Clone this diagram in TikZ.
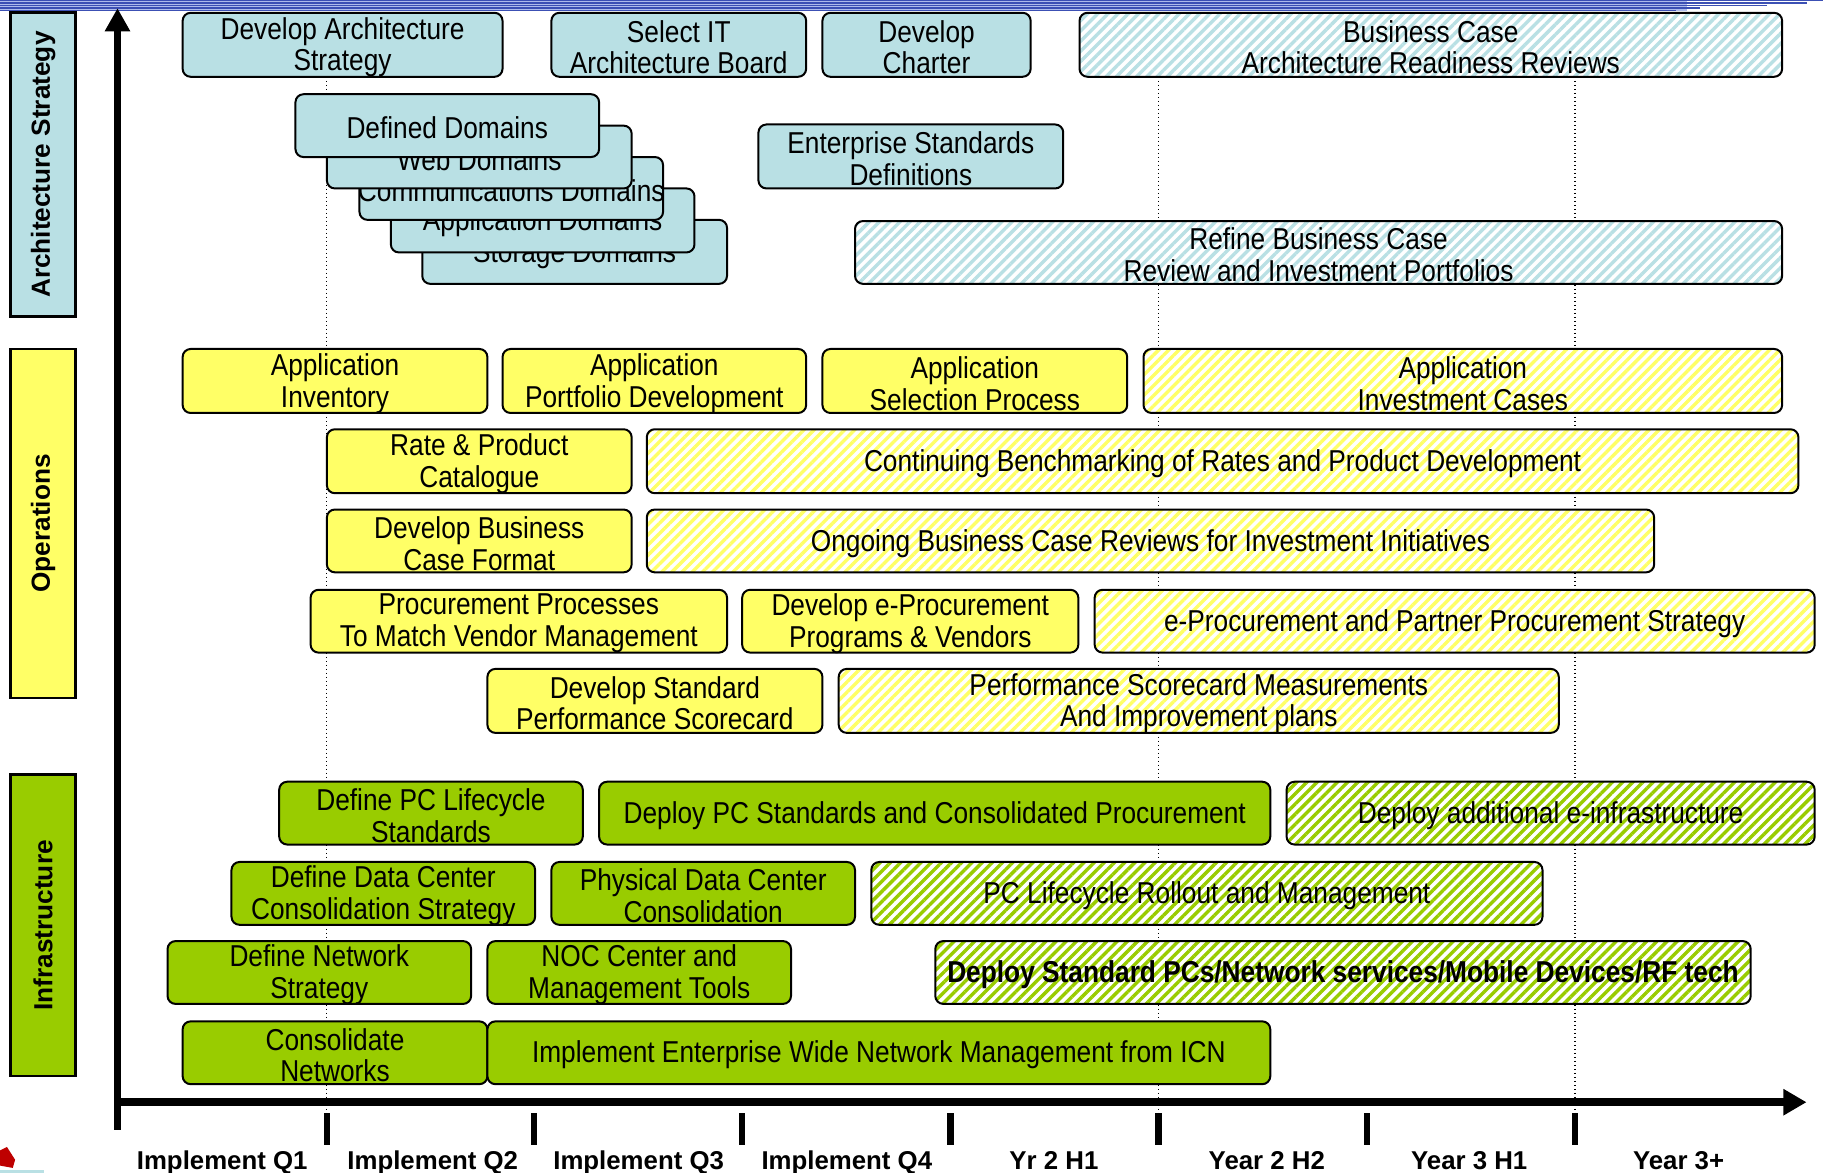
\documentclass[tikz,border=0pt]{standalone}
\usepackage{fontspec}
\setmainfont{Liberation Sans}
\newfontfamily\boxfont{Liberation Sans}[FakeStretch=0.87]
\usetikzlibrary{patterns.meta,arrows.meta}
\definecolor{archc}{RGB}{185,224,228}
\definecolor{opc}{RGB}{255,255,102}
\definecolor{infc}{RGB}{153,204,0}
\definecolor{bandd}{RGB}{60,80,180}
\definecolor{bandl}{RGB}{175,188,235}
\definecolor{logored}{RGB}{190,0,0}
\begin{document}
\begin{tikzpicture}[x=0.5816pt,y=-0.5816pt,
 span/.style args={#1/#2/#3/#4}{minimum width={(#3-#1)*0.5816pt}, minimum height={(#4-#2)*0.5816pt}, at={({(#1+#3)/2},{(#2+#4)/2})}},
 boxtext/.style={inner sep=0pt, align=center, yshift=-1.2pt, font=\boxfont\fontsize{15.1}{15.9}\selectfont},
 txt/.style={label={[boxtext]center:{#1}}},
 btxt/.style={label={[boxtext, font=\boxfont\fontsize{15.1}{15.9}\selectfont\bfseries]center:{#1}}},
 bx/.style={draw=black, line width=1pt, rounded corners=4pt, inner sep=0pt},
 arch/.style={bx, fill=archc},
 op/.style={bx, fill=opc},
 inf/.style={bx, fill=infc},
 hatch/.style={bx, preaction={fill=white}, pattern={Lines[angle=45,distance=3.6pt,line width=1.7pt]}, pattern color=#1},
 lane/.style={draw=black, line width=1.4pt, inner sep=0pt, fill=#1},
 lanetext/.style={rotate=90, inner sep=0pt, font=\fontsize{13.1}{15.7}\selectfont\bfseries},
 axislbl/.style={anchor=base, inner sep=0pt, font=\fontsize{12.9}{15}\selectfont\bfseries},
 gridline/.style={line width=0.6pt, dash pattern=on 0.7pt off 1.3pt},
 tickmark/.style={line width=3.2pt},
]
\useasboundingbox (0,0) rectangle (1568,1008);

% top banner
\fill[bandl] (0,0) rectangle (1450,9.7);
\foreach \yy/\xe in {0.5/1567, 2.6/1553, 4.8/1519, 7.0/1461, 9.2/1441}
  \draw[bandd, line width=0.7pt] (0,\yy) -- (\xe,\yy);

% dotted grid lines
\foreach \gx in {281,996,1354}
  \draw[gridline] (\gx,11) -- (\gx,957);

% lanes
\node[lane=archc, span={9/11/65/272}] (laneA) {};
\node[lanetext] (laneAt) at (laneA.center) {Architecture Strategy};
\node[lane=opc, span={9/300/65/600}] (laneO) {};
\node[lanetext] (laneOt) at (laneO.center) {Operations};
\node[lane=infc, span={9/666/65/925}] (laneI) {};
\node[lanetext] (laneIt) at (laneI.center) {Infrastructure};

% Architecture strategy
\node[arch, span={157/11/432/66}, txt={Develop Architecture\\Strategy}] (das) {};
\node[arch, span={474/11/693/66}, txt={Select IT\\Architecture Board}] (sitab) {};
\node[arch, span={707/11/886/66}, txt={Develop\\Charter}] (dch) {};
\node[hatch=archc, span={928/11/1532/66}, txt={Business Case\\Architecture Readiness Reviews}] (bcarr) {};
\node[arch, span={363/189/625/244}, txt={Storage Domains}] (stor) {};
\node[arch, span={336/162/597/217}, txt={Application Domains}] (appd) {};
\node[arch, span={309/135/570/189}, txt={Communications Domains}] (comm) {};
\node[arch, span={281/108/543/162}, txt={Web Domains}] (web) {};
\node[arch, span={254/81/515/135}, txt={Defined Domains}] (defd) {};
\node[arch, span={652/107/914/162}, txt={Enterprise Standards\\Definitions}] (esd) {};
\node[hatch=archc, span={735/190/1532/244}, txt={Refine Business Case\\Review and Investment Portfolios}] (rbc) {};

% Operations
\node[op, span={157/300/419/355}, txt={Application\\Inventory}] (ainv) {};
\node[op, span={432/300/693/355}, txt={Application\\Portfolio Development}] (apd) {};
\node[op, span={707/300/969/355}, txt={Application\\Selection Process}] (asp) {};
\node[hatch=opc, span={983/300/1532/355}, txt={Application\\Investment Cases}] (aic) {};
\node[op, span={281/369/543/424}, txt={Rate \& Product\\Catalogue}] (rpc) {};
\node[hatch=opc, span={556/369/1546/424}, txt={Continuing Benchmarking of Rates and Product Development}] (cbr) {};
\node[op, span={281/438/543/492}, txt={Develop Business\\Case Format}] (dbcf) {};
\node[hatch=opc, span={556/438/1422/492}, txt={Ongoing Business Case Reviews for Investment Initiatives}] (obcr) {};
\node[op, span={267/507/625/561}, txt={Procurement Processes\\To Match Vendor Management}] (ppvm) {};
\node[op, span={638/507/927/561}, txt={Develop e-Procurement\\Programs \& Vendors}] (depv) {};
\node[hatch=opc, span={941/507/1560/561}, txt={e-Procurement and Partner Procurement Strategy}] (epps) {};
\node[op, span={419/575/707/630}, txt={Develop Standard\\Performance Scorecard}] (dsps) {};
\node[hatch=opc, span={721/575/1340/630}, txt={Performance Scorecard Measurements\\And Improvement plans}] (psm) {};

% Infrastructure
\node[inf, span={240/672/501/726}, txt={Define PC Lifecycle\\Standards}] (dpcl) {};
\node[inf, span={515/672/1092/726}, txt={Deploy PC Standards and Consolidated Procurement}] (dpcs) {};
\node[hatch=infc, span={1106/672/1560/726}, txt={Deploy additional e-infrastructure}] (daei) {};
\node[inf, span={199/741/460/795}, txt={Define Data Center\\Consolidation Strategy}] (ddcc) {};
\node[inf, span={474/741/735/795}, txt={Physical Data Center\\Consolidation}] (pdcc) {};
\node[hatch=infc, span={749/741/1326/795}, txt={PC Lifecycle Rollout and Management}] (pclr) {};
\node[inf, span={144/809/405/863}, txt={Define Network\\Strategy}] (dns) {};
\node[inf, span={419/809/680/863}, txt={NOC Center and\\Management Tools}] (noc) {};
\node[hatch=infc, span={804/809/1505/863}, btxt={Deploy Standard PCs/Network services/Mobile Devices/RF tech}] (dspc) {};
\node[inf, span={157/878/419/932}, txt={Consolidate\\Networks}] (cnet) {};
\node[inf, span={419/878/1092/932}, txt={Implement Enterprise Wide Network Management from ICN}] (iewn) {};

% axes
\coordinate (yfoot) at (101,971);
\coordinate (ytip) at (101,7);
\draw[line width=3.8pt, -{Triangle[length=11.6pt,width=12pt]}] (yfoot) -- (ytip);
\coordinate (xfoot) at (98,947.5);
\coordinate (xtip) at (1553,947.5);
\draw[line width=4.1pt, -{Triangle[length=11.6pt,width=12.5pt]}] (xfoot) -- (xtip);
\foreach \tx in {281,459,638,817,996,1175,1354}
  \draw[tickmark] (\tx,957) -- (\tx,984);

% axis labels
\node[axislbl] (q1) at (191,1005) {Implement Q1};
\node[axislbl] (q2) at (372,1005) {Implement Q2};
\node[axislbl] (q3) at (549,1005) {Implement Q3};
\node[axislbl] (q4) at (728,1005) {Implement Q4};
\node[axislbl] (y2h1) at (906,1005) {Yr 2 H1};
\node[axislbl] (y2h2) at (1089,1005) {Year 2 H2};
\node[axislbl] (y3h1) at (1263,1005) {Year 3 H1};
\node[axislbl] (y3p) at (1443,1005) {Year 3+};

% logo fragment
\fill[logored] (0,989) -- (6,986) -- (13,997) -- (11,1004) -- (0,1002) -- cycle;
\fill[archc] (0,1006) rectangle (38,1008);
\end{tikzpicture}
\end{document}
